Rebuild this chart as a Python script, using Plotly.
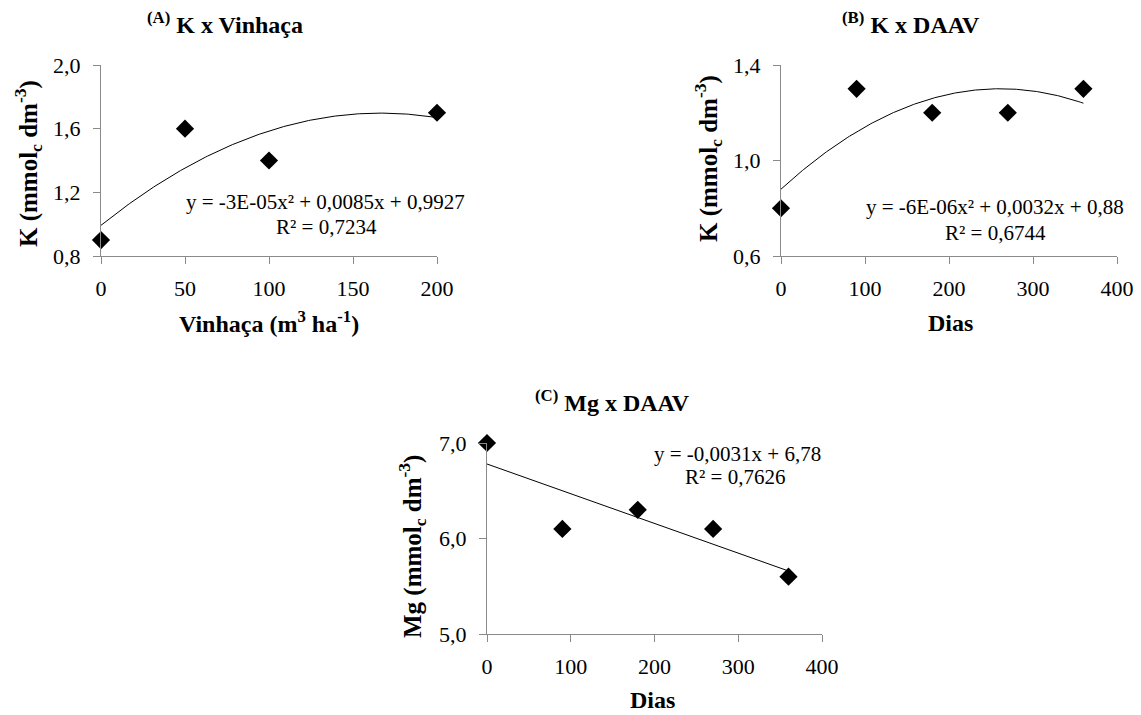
import numpy as np
import plotly.graph_objects as go

# ---------------- data ----------------
vinhaca_x = [0, 50, 100, 200]
k_vinhaca = [0.9, 1.6, 1.4, 1.7]

dias_x = [0, 90, 180, 270, 360]
k_dias = [0.8, 1.3, 1.2, 1.2, 1.3]
mg_dias = [7.0, 6.1, 6.3, 6.1, 5.6]

eq_a = ["y = -3E-05x² + 0,0085x + 0,9927", "R² = 0,7234"]
eq_b = ["y = -6E-06x² + 0,0032x + 0,88", "R² = 0,6744"]
eq_c = ["y = -0,0031x + 6,78", "R² = 0,7626"]

W, H = 1141, 715
FONT = "Liberation Serif, Times New Roman, serif"
AXC = "#8a8a8a"


def px(x):
    return x / W


def py(y):
    return 1 - y / H


# trend lines (least squares, as in the spreadsheet trendlines)
ca = np.polyfit(vinhaca_x, k_vinhaca, 2)
xa = np.linspace(0, 200, 200)
cb = np.polyfit(dias_x, k_dias, 2)
xb = np.linspace(0, 360, 200)
cc = np.polyfit(dias_x, mg_dias, 1)
xc = np.linspace(0, 360, 200)

fig = go.Figure()

marker = dict(symbol="diamond", size=14, color="black")
line = dict(color="black", width=1)

fig.add_trace(go.Scatter(x=xa, y=np.polyval(ca, xa), mode="lines", line=line,
                         xaxis="x", yaxis="y", cliponaxis=False))
fig.add_trace(go.Scatter(x=vinhaca_x, y=k_vinhaca, mode="markers", marker=marker,
                         xaxis="x", yaxis="y", cliponaxis=False))
fig.add_trace(go.Scatter(x=xb, y=np.polyval(cb, xb), mode="lines", line=line,
                         xaxis="x2", yaxis="y2", cliponaxis=False))
fig.add_trace(go.Scatter(x=dias_x, y=k_dias, mode="markers", marker=marker,
                         xaxis="x2", yaxis="y2", cliponaxis=False))
fig.add_trace(go.Scatter(x=xc, y=np.polyval(cc, xc), mode="lines", line=line,
                         xaxis="x3", yaxis="y3", cliponaxis=False))
fig.add_trace(go.Scatter(x=dias_x, y=mg_dias, mode="markers", marker=marker,
                         xaxis="x3", yaxis="y3", cliponaxis=False))

tickfont = dict(family=FONT, size=22, color="black")


def xax(domain, rng, dtick, anchor):
    return dict(domain=domain, range=rng, dtick=dtick, tick0=0, anchor=anchor,
                showline=True, linecolor=AXC, linewidth=1, ticks="outside",
                ticklen=7, tickcolor=AXC, showgrid=False, zeroline=False,
                tickfont=tickfont, fixedrange=True, automargin=False,
                ticklabelstandoff=6)


def yax(domain, rng, dtick, anchor):
    return dict(domain=domain, range=rng, dtick=dtick, tick0=rng[0], anchor=anchor,
                showline=True, linecolor=AXC, linewidth=1, ticks="outside",
                ticklen=7, tickcolor=AXC, showgrid=False, zeroline=False,
                tickformat=".1f", tickfont=tickfont, fixedrange=True,
                automargin=False, ticklabelstandoff=8)


fig.update_layout(
    width=W, height=H,
    margin=dict(l=0, r=0, t=0, b=0, autoexpand=False),
    paper_bgcolor="white", plot_bgcolor="white",
    showlegend=False,
    separators=", ",
    font=dict(family=FONT, color="black"),
    xaxis=xax([px(101), px(437)], [0, 200], 50, "y"),
    yaxis=yax([py(256), py(65)], [0.8, 2.0], 0.4, "x"),
    xaxis2=xax([px(781), px(1117)], [0, 400], 100, "y2"),
    yaxis2=yax([py(256), py(65)], [0.6, 1.4], 0.4, "x2"),
    xaxis3=xax([px(487), px(822)], [0, 400], 100, "y3"),
    yaxis3=yax([py(634), py(443)], [5.0, 7.0], 1.0, "x3"),
)

ann = []


def text(x, y, s, size, angle=0):
    ann.append(dict(x=px(x), y=py(y), xref="paper", yref="paper", text=s,
                    showarrow=False, textangle=angle, xanchor="center",
                    yanchor="middle", font=dict(family=FONT, size=size, color="black")))


# titles
text(225, 23, "<b><sup>(A)</sup> K x Vinhaça</b>", 24)
text(911, 23, "<b><sup>(B)</sup> K x DAAV</b>", 24)
text(612, 401, "<b><sup>(C)</sup> Mg x DAAV</b>", 24)

# axis titles
text(28, 164, "<b>K (mmol<sub>c</sub> dm<sup>-3</sup>)</b>", 25, -90)
text(708, 159, "<b>K (mmol<sub>c</sub> dm<sup>-3</sup>)</b>", 25, -90)
text(412, 547, "<b>Mg (mmol<sub>c</sub> dm<sup>-3</sup>)</b>", 25, -90)
text(269, 322, "<b>Vinhaça (m<sup>3</sup> ha<sup>-1</sup>)</b>", 24)
text(950, 323, "<b>Dias</b>", 24)
text(652, 700, "<b>Dias</b>", 24)

# equations
text(325, 202, eq_a[0], 21)
text(326, 227, eq_a[1], 21)
text(995, 207, eq_b[0], 21)
text(995, 233, eq_b[1], 21)
text(737, 454, eq_c[0], 21)
text(735, 477, eq_c[1], 21)

fig.update_layout(annotations=ann)

fig.write_html("out.html", config={"displayModeBar": False},
               post_script="document.body.style.margin='0';document.body.style.overflow='hidden';")
